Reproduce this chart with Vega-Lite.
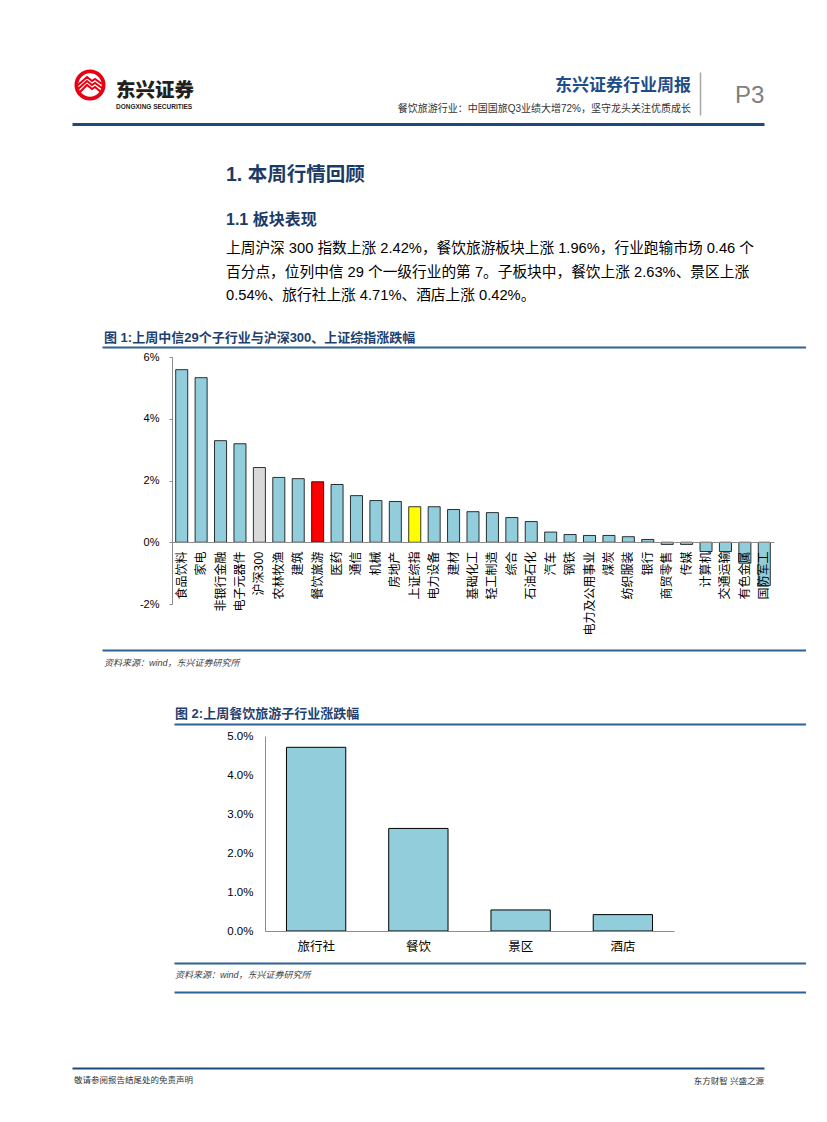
{
  "$schema": "https://vega.github.io/schema/vega-lite/v6.json",
  "background": "white",
  "padding": {"left": 68, "top": 0, "right": 0, "bottom": 0},
  "bounds": "flush",
  "spacing": 0,
  "config": {
    "view": {"stroke": null},
    "font": "Liberation Sans, Noto Sans CJK SC",
    "title": {"orient": "top", "anchor": "start", "frame": "group", "offset": -2, "subtitlePadding": 0},
    "axis": {"grid": false}
  },
  "vconcat": [
    {"width": 692, "height": 70, "data": {"values": [{}]}, "mark": {"type": "point", "opacity": 0, "size": 0, "strokeWidth": 0}},
    {
      "width": 36, "height": 30,
      "layer": [
        {"data": {"values": [{}]}, "mark": {"type": "point", "shape": "circle", "size": 740, "filled": true, "fill": "#ffffff", "stroke": "#e60012", "strokeWidth": 3.8, "opacity": 1}},
        {"data": {"values": [{}]}, "mark": {"type": "point", "shape": "M-12,0L-3,-8L2,-4L5,-6L12,-1M-12,4L-3,-4L2,0L5,-2L12,3M-11,8L-3,0L2,4L5,2L11,7", "size": 4, "filled": false, "stroke": "#e60012", "strokeWidth": 2.1, "opacity": 1}},
        {"data": {"values": [{}]}, "mark": {"type": "point", "opacity": 0, "size": 0, "strokeWidth": 0},
         "encoding": {"y": {"datum": 0, "type": "quantitative", "scale": {"domain": [0, 1], "range": [45, 2]},
           "axis": {"orient": "right", "offset": 592, "domainColor": "#a6a6a6", "domainWidth": 1.5, "labels": false, "ticks": false, "title": null, "grid": false}}}}
      ]
    },
    {"width": 692, "height": 7, "data": {"values": [{}]}, "mark": {"type": "point", "opacity": 0, "size": 0, "strokeWidth": 0}},
    {"width": 692, "height": 1, "data": {"values": [{}]}, "mark": {"type": "point", "opacity": 0, "size": 0, "strokeWidth": 0},
     "title": {"text": "P3", "dx": 663, "offset": -1, "fontSize": 24, "fontWeight": "normal", "color": "#7f7f7f", "font": "Liberation Sans"}},
    {"width": 692, "height": 3, "data": {"values": [{}]}, "mark": {"type": "point", "opacity": 0, "size": 0, "strokeWidth": 0},
     "title": {"text": "东兴证券", "dx": 44, "offset": -3, "fontSize": 19.5, "fontWeight": 900, "color": "#231f20", "font": "Noto Sans CJK SC",
       "subtitle": "DONGXING SECURITIES", "subtitleFontSize": 6.5, "subtitleFontWeight": "bold", "subtitleColor": "#231f20", "subtitleFont": "Liberation Sans", "subtitlePadding": 2.5}},
    {"width": 619, "height": 13, "data": {"values": [{}]}, "mark": {"type": "point", "opacity": 0, "size": 0, "strokeWidth": 0},
     "title": {"text": "东兴证券行业周报", "anchor": "end", "offset": -4, "fontSize": 17, "fontWeight": "bold", "color": "#1d4e89",
       "subtitle": "餐饮旅游行业：中国国旅Q3业绩大增72%，坚守龙头关注优质成长", "subtitleFontSize": 10, "subtitleColor": "#333333", "subtitlePadding": 9.3}},
    {"width": 692, "height": 59, "data": {"values": [{}]}, "mark": {"type": "point", "opacity": 0, "size": 0, "strokeWidth": 0},
     "encoding": {"x": {"datum": 0, "type": "quantitative", "scale": {"domain": [0, 1]},
       "axis": {"orient": "top", "offset": 0, "domainColor": "#1f497d", "domainWidth": 3, "labels": false, "ticks": false, "title": null, "grid": false}}}},
    {"width": 692, "height": 43, "data": {"values": [{}]}, "mark": {"type": "point", "opacity": 0, "size": 0, "strokeWidth": 0},
     "title": {"text": "1. 本周行情回顾", "dx": 154, "fontSize": 19.5, "fontWeight": "bold", "color": "#1c3a66"}},
    {"width": 692, "height": 75, "data": {"values": [{}]}, "mark": {"type": "point", "opacity": 0, "size": 0, "strokeWidth": 0},
     "title": {"text": "1.1 板块表现", "dx": 154, "fontSize": 16, "fontWeight": "bold", "color": "#1c3a66"}},
    {"width": 692, "height": 42, "data": {"values": [{}]}, "mark": {"type": "point", "opacity": 0, "size": 0, "strokeWidth": 0},
     "title": {"text": ["上周沪深 300 指数上涨 2.42%，餐饮旅游板块上涨 1.96%，行业跑输市场 0.46 个", "百分点，位列中信 29 个一级行业的第 7。子板块中，餐饮上涨 2.63%、景区上涨", "0.54%、旅行社上涨 4.71%、酒店上涨 0.42%。"],
       "dx": 154, "fontSize": 14.7, "fontWeight": "normal", "color": "#000000", "lineHeight": 23.5}},
    {"width": 704, "height": 14, "data": {"values": [{}]}, "mark": {"type": "point", "opacity": 0, "size": 0, "strokeWidth": 0},
     "title": {"text": "图 1:上周中信29个子行业与沪深300、上证综指涨跌幅", "dx": 32, "fontSize": 13, "fontWeight": "bold", "color": "#1f3f6e"},
     "encoding": {"x": {"datum": 0, "type": "quantitative", "scale": {"domain": [0, 1]},
       "axis": {"orient": "top", "offset": -4, "position": 30, "domainColor": "#2f6296", "domainWidth": 2, "labels": false, "ticks": false, "title": null, "grid": false}}}},
    {
      "width": 702, "height": 247,
      "data": {"values": [
        {"name": "食品饮料", "value": 5.59},
        {"name": "家电", "value": 5.33},
        {"name": "非银行金融", "value": 3.29},
        {"name": "电子元器件", "value": 3.19},
        {"name": "沪深300", "value": 2.42},
        {"name": "农林牧渔", "value": 2.10},
        {"name": "建筑", "value": 2.06},
        {"name": "餐饮旅游", "value": 1.96},
        {"name": "医药", "value": 1.87},
        {"name": "通信", "value": 1.51},
        {"name": "机械", "value": 1.35},
        {"name": "房地产", "value": 1.32},
        {"name": "上证综指", "value": 1.15},
        {"name": "电力设备", "value": 1.15},
        {"name": "建材", "value": 1.06},
        {"name": "基础化工", "value": 0.99},
        {"name": "轻工制造", "value": 0.96},
        {"name": "综合", "value": 0.80},
        {"name": "石油石化", "value": 0.67},
        {"name": "汽车", "value": 0.33},
        {"name": "钢铁", "value": 0.25},
        {"name": "电力及公用事业", "value": 0.22},
        {"name": "煤炭", "value": 0.22},
        {"name": "纺织服装", "value": 0.18},
        {"name": "银行", "value": 0.09},
        {"name": "商贸零售", "value": -0.07},
        {"name": "传媒", "value": -0.07},
        {"name": "计算机", "value": -0.30},
        {"name": "交通运输", "value": -0.30},
        {"name": "有色金属", "value": -0.68},
        {"name": "国防军工", "value": -1.40}
      ]},
      "mark": {"type": "bar", "stroke": "#000000", "strokeWidth": 0.8},
      "encoding": {
        "x": {"field": "name", "type": "nominal", "sort": null,
          "scale": {"range": [100, 702], "paddingInner": 0.38, "paddingOuter": 0.19},
          "axis": {"orient": "bottom", "offset": -62, "title": null, "labelAngle": -90, "labelFontSize": 12, "labelFont": "Noto Sans CJK SC", "labelColor": "#000000", "labelPadding": 9, "ticks": false, "domainColor": "#8c8c8c", "domainWidth": 1, "labelLimit": 200, "zindex": 1}},
        "y": {"field": "value", "type": "quantitative",
          "scale": {"domain": [-2, 6], "nice": false},
          "axis": {"orient": "left", "offset": -100, "title": null, "values": [-2, 0, 2, 4, 6], "labelExpr": "datum.value + '%'", "labelFontSize": 11, "labelColor": "#000000", "tickSize": 3, "tickColor": "#8c8c8c", "domainColor": "#8c8c8c", "labelPadding": 10, "grid": false}},
        "color": {"condition": [
          {"test": "datum.name === '沪深300'", "value": "#d9d9d9"},
          {"test": "datum.name === '餐饮旅游'", "value": "#ff0000"},
          {"test": "datum.name === '上证综指'", "value": "#ffff00"}
        ], "value": "#92cddc"}
      }
    },
    {"width": 704, "height": 62, "data": {"values": [{}]}, "mark": {"type": "point", "opacity": 0, "size": 0, "strokeWidth": 0},
     "encoding": {"x": {"datum": 0, "type": "quantitative", "scale": {"domain": [0, 1]},
       "axis": {"orient": "top", "offset": -46, "position": 30, "domainColor": "#2f6296", "domainWidth": 2, "labels": false, "ticks": false, "title": null, "grid": false}}}},
    {"width": 704, "height": 53, "data": {"values": [{}]}, "mark": {"type": "point", "opacity": 0, "size": 0, "strokeWidth": 0},
     "title": {"text": "资料来源：wind，东兴证券研究所", "dx": 32, "fontSize": 9, "fontWeight": "normal", "fontStyle": "italic", "color": "#404040"}},
    {"width": 632, "height": 17, "data": {"values": [{}]}, "mark": {"type": "point", "opacity": 0, "size": 0, "strokeWidth": 0},
     "title": {"text": "图 2:上周餐饮旅游子行业涨跌幅", "dx": 103, "fontSize": 13, "fontWeight": "bold", "color": "#1f3f6e"},
     "encoding": {"x": {"datum": 0, "type": "quantitative", "scale": {"domain": [0, 1]},
       "axis": {"orient": "top", "offset": -5, "position": 102, "domainColor": "#2f6296", "domainWidth": 2, "labels": false, "ticks": false, "title": null, "grid": false}}}},
    {
      "width": 602, "height": 195,
      "data": {"values": [
        {"name": "旅行社", "value": 4.71},
        {"name": "餐饮", "value": 2.63},
        {"name": "景区", "value": 0.54},
        {"name": "酒店", "value": 0.42}
      ]},
      "mark": {"type": "bar", "color": "#92cddc", "stroke": "#000000", "strokeWidth": 1},
      "encoding": {
        "x": {"field": "name", "type": "nominal", "sort": null,
          "scale": {"range": [193, 602], "paddingInner": 0.42, "paddingOuter": 0.21},
          "axis": {"title": null, "labelAngle": 0, "labelFontSize": 12.5, "labelFont": "Noto Sans CJK SC", "labelColor": "#000000", "labelPadding": 9, "ticks": false, "domainColor": "#8c8c8c", "zindex": 1}},
        "y": {"field": "value", "type": "quantitative",
          "scale": {"domain": [0, 5], "nice": false},
          "axis": {"offset": -193, "title": null, "values": [0, 1, 2, 3, 4, 5], "labelExpr": "format(datum.value, '.1f') + '%'", "labelFontSize": 11.5, "labelColor": "#000000", "ticks": false, "labelPadding": 12, "domainColor": "#8c8c8c", "grid": false}}
      }
    },
    {"width": 632, "height": 47, "data": {"values": [{}]}, "mark": {"type": "point", "opacity": 0, "size": 0, "strokeWidth": 0},
     "encoding": {"x": {"datum": 0, "type": "quantitative", "scale": {"domain": [0, 1]},
       "axis": {"orient": "top", "offset": -32, "position": 102, "domainColor": "#2f6296", "domainWidth": 2, "labels": false, "ticks": false, "title": null, "grid": false}}}},
    {"width": 632, "height": 90, "data": {"values": [{}]}, "mark": {"type": "point", "opacity": 0, "size": 0, "strokeWidth": 0},
     "title": {"text": "资料来源：wind，东兴证券研究所", "dx": 103, "fontSize": 9, "fontWeight": "normal", "fontStyle": "italic", "color": "#404040"},
     "encoding": {"x": {"datum": 0, "type": "quantitative", "scale": {"domain": [0, 1]},
       "axis": {"orient": "top", "offset": -14, "position": 102, "domainColor": "#2f6296", "domainWidth": 2, "labels": false, "ticks": false, "title": null, "grid": false}}}},
    {"width": 692, "height": 14, "data": {"values": [{}]}, "mark": {"type": "point", "opacity": 0, "size": 0, "strokeWidth": 0},
     "encoding": {"x": {"datum": 0, "type": "quantitative", "scale": {"domain": [0, 1]},
       "axis": {"orient": "top", "offset": 0, "domainColor": "#1f497d", "domainWidth": 2, "labels": false, "ticks": false, "title": null, "grid": false}}}},
    {"width": 692, "height": 1, "data": {"values": [{}]}, "mark": {"type": "point", "opacity": 0, "size": 0, "strokeWidth": 0},
     "title": {"text": "敬请参阅报告结尾处的免责声明", "dx": 2, "fontSize": 8.5, "fontWeight": "normal", "color": "#333333"}},
    {"width": 692, "height": 1, "data": {"values": [{}]}, "mark": {"type": "point", "opacity": 0, "size": 0, "strokeWidth": 0},
     "title": {"text": "东方财智 兴盛之源", "anchor": "end", "fontSize": 8.5, "fontWeight": "normal", "color": "#333333"}}
  ]
}
